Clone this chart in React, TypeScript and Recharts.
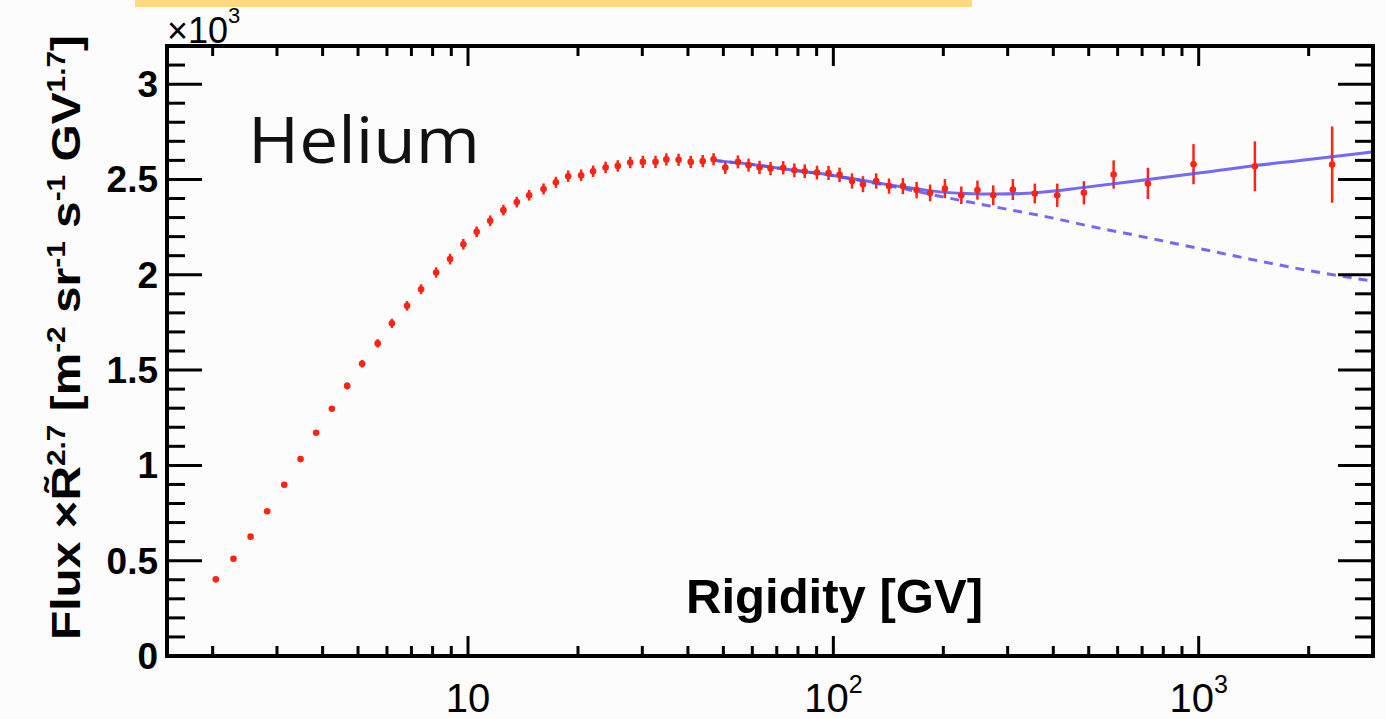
import { ComposedChart, Scatter, Line, XAxis, YAxis, ErrorBar } from "recharts";

// AMS helium flux x R^2.7, values in units of 10^3
const rigidity = [
    2.04, 2.28, 2.54, 2.82, 3.14, 3.48, 3.84, 4.24, 4.67, 5.13,
    5.66, 6.19, 6.81, 7.44, 8.18, 8.93, 9.71, 10.56, 11.5, 12.5,
    13.6, 14.7, 16.1, 17.4, 18.8, 20.4, 22.0, 23.8, 25.7, 27.8,
    30.1, 32.6, 34.9, 37.7, 40.7, 43.9, 47.0, 50.6, 54.8, 58.6,
    62.8, 67.3, 72.9, 78.2, 83.5, 90.2, 97.0, 104, 112.5, 120.5,
    131, 142, 155, 169, 184, 202, 224, 248, 274, 310,
    356, 410, 485, 585, 726, 968, 1425, 2319,
];
const flux = [
    0.402, 0.510, 0.626, 0.759, 0.898, 1.033, 1.171, 1.297, 1.417, 1.533,
    1.640, 1.745, 1.837, 1.924, 2.012, 2.082, 2.160, 2.225, 2.283, 2.339,
    2.381, 2.417, 2.450, 2.485, 2.517, 2.522, 2.543, 2.563, 2.571, 2.589,
    2.592, 2.592, 2.605, 2.603, 2.592, 2.596, 2.606, 2.563, 2.592, 2.575,
    2.563, 2.557, 2.561, 2.548, 2.543, 2.536, 2.534, 2.524, 2.492, 2.475,
    2.492, 2.465, 2.465, 2.444, 2.429, 2.452, 2.417, 2.444, 2.417, 2.447,
    2.426, 2.417, 2.430, 2.526, 2.479, 2.580, 2.569, 2.578,
];
const fluxErr = [
    0.008, 0.008, 0.008, 0.008, 0.008, 0.008, 0.01, 0.012, 0.018, 0.02,
    0.022, 0.024, 0.025, 0.026, 0.027, 0.028, 0.028, 0.028, 0.028, 0.028,
    0.028, 0.028, 0.029, 0.029, 0.03, 0.03, 0.03, 0.03, 0.03, 0.03,
    0.032, 0.032, 0.032, 0.032, 0.032, 0.032, 0.032, 0.034, 0.034, 0.034,
    0.035, 0.035, 0.035, 0.036, 0.036, 0.036, 0.037, 0.038, 0.04, 0.042,
    0.04, 0.04, 0.042, 0.043, 0.044, 0.05, 0.046, 0.05, 0.052, 0.055,
    0.052, 0.061, 0.061, 0.074, 0.082, 0.105, 0.131, 0.2,
];

// fit with spectral break (solid)
const fitR = [47, 60, 80, 100, 130, 150, 185, 230, 280, 370, 480, 700, 1000, 1400, 2000, 3000];
const fitBroken = [2.6, 2.578, 2.545, 2.521, 2.484, 2.465, 2.44, 2.426, 2.423, 2.433, 2.457, 2.496, 2.534, 2.571, 2.604, 2.645];

// single power law (dashed)
const singleR = [47, 60, 80, 100, 130, 160, 200, 250, 300, 400, 500, 700, 1000, 1500, 2000, 3000];
const fitSingle = [2.6, 2.578, 2.545, 2.519, 2.48, 2.447, 2.408, 2.372, 2.343, 2.297, 2.256, 2.2, 2.138, 2.068, 2.022, 1.966];

const xTicks = [2, 3, 4, 5, 6, 7, 8, 9, 10, 20, 30, 40, 50, 60, 70, 80, 90, 100, 200, 300, 400, 500, 600, 700, 800, 900, 1000, 2000];
const xMajor = [10, 100, 1000];
const xLabelBase = ["10", "10", "10"];
const xLabelExp = ["", "2", "3"];

const yTicks = [
    0, 0.1, 0.2, 0.3, 0.4, 0.5, 0.6, 0.7, 0.8, 0.9, 1, 1.1, 1.2, 1.3, 1.4, 1.5, 1.6,
    1.7, 1.8, 1.9, 2, 2.1, 2.2, 2.3, 2.4, 2.5, 2.6, 2.7, 2.8, 2.9, 3, 3.1,
];
const yMajor = [0, 0.5, 1, 1.5, 2, 2.5, 3];
const yLabels = ["0", "0.5", "1", "1.5", "2", "2.5", "3"];

const points = rigidity.map((r, i) => ({ r, f: flux[i], e: fluxErr[i] }));
const brokenLine = fitR.map((r, i) => ({ r, f: fitBroken[i] }));
const singleLine = singleR.map((r, i) => ({ r, f: fitSingle[i] }));

const FONT = "'Liberation Sans', Arial, Helvetica, sans-serif";
const RED = "#ff2314";
const BLUE = "#5d4ef5";
const frame = { stroke: "#000", strokeWidth: 4, strokeLinecap: "square" as const };

const BottomTick = (props: any) => {
    const { x, y, payload } = props;
    const i = xMajor.indexOf(payload.value);
    return (
        <g>
            <line x1={x} x2={x} y1={y} y2={y - (i >= 0 ? 20 : 10)} stroke="#000" strokeWidth={3} />
            {i >= 0 && (
                <text x={x} y={y + 56} textAnchor="middle" fontSize={40} fontFamily={FONT} fill="#000">
                    {xLabelBase[i]}
                    {xLabelExp[i] && <tspan dy={-19} fontSize={25}>{xLabelExp[i]}</tspan>}
                </text>
            )}
        </g>
    );
};

const TopTick = (props: any) => {
    const { x, y, payload } = props;
    const major = xMajor.includes(payload.value);
    return <line x1={x} x2={x} y1={y} y2={y + (major ? 20 : 10)} stroke="#000" strokeWidth={3} />;
};

const LeftTick = (props: any) => {
    const { x, y, payload } = props;
    const i = yMajor.indexOf(payload.value);
    return (
        <g>
            <line x1={x} x2={x + (i >= 0 ? 35 : 18)} y1={y} y2={y} stroke="#000" strokeWidth={3} />
            {i >= 0 && (
                <text x={x - 9} y={y + 13} textAnchor="end" fontSize={37} fontWeight="bold" fontFamily={FONT} fill="#000">
                    {yLabels[i]}
                </text>
            )}
        </g>
    );
};

const RightTick = (props: any) => {
    const { x, y, payload } = props;
    const major = yMajor.includes(payload.value);
    return <line x1={x} x2={x - (major ? 35 : 18)} y1={y} y2={y} stroke="#000" strokeWidth={3} />;
};

const Dot = (props: any) => <circle cx={props.cx} cy={props.cy} r={3.3} fill={RED} />;

export default function App() {
    return (
        <div style={{ position: "absolute", left: 0, top: 0, width: 1386, height: 719, background: "#fcfcfc" }}>
            <ComposedChart width={1386} height={719} margin={{ top: 0, right: 0, bottom: 0, left: 0 }}>
                <XAxis
                    xAxisId="bottom"
                    dataKey="r"
                    type="number"
                    scale="log"
                    domain={[1.5, 3000]}
                    allowDataOverflow
                    ticks={xTicks}
                    interval={0}
                    height={63}
                    tickSize={0}
                    tickMargin={0}
                    tickLine={false}
                    axisLine={frame}
                    tick={BottomTick}
                />
                <XAxis
                    xAxisId="top"
                    orientation="top"
                    dataKey="r"
                    type="number"
                    scale="log"
                    domain={[1.5, 3000]}
                    allowDataOverflow
                    ticks={xTicks}
                    interval={0}
                    height={46}
                    tickSize={0}
                    tickMargin={0}
                    tickLine={false}
                    axisLine={frame}
                    tick={TopTick}
                />
                <YAxis
                    yAxisId="left"
                    type="number"
                    domain={[0, 3.2]}
                    allowDataOverflow
                    ticks={yTicks}
                    interval={0}
                    width={167}
                    tickSize={0}
                    tickMargin={0}
                    tickLine={false}
                    axisLine={frame}
                    tick={LeftTick}
                />
                <YAxis
                    yAxisId="right"
                    orientation="right"
                    type="number"
                    domain={[0, 3.2]}
                    allowDataOverflow
                    ticks={yTicks}
                    interval={0}
                    width={13}
                    tickSize={0}
                    tickMargin={0}
                    tickLine={false}
                    axisLine={frame}
                    tick={RightTick}
                />
                <Scatter
                    xAxisId="bottom"
                    yAxisId="left"
                    data={points}
                    dataKey="f"
                    shape={Dot}
                    isAnimationActive={false}
                >
                    <ErrorBar dataKey="e" direction="y" width={0} stroke={RED} strokeWidth={2.5} />
                </Scatter>
                <Line
                    xAxisId="bottom"
                    yAxisId="left"
                    data={singleLine}
                    dataKey="f"
                    type="monotone"
                    stroke={BLUE}
                    strokeOpacity={0.85}
                    strokeWidth={3}
                    strokeDasharray="9 7"
                    dot={false}
                    activeDot={false}
                    isAnimationActive={false}
                />
                <Line
                    xAxisId="bottom"
                    yAxisId="left"
                    data={brokenLine}
                    dataKey="f"
                    type="monotone"
                    stroke={BLUE}
                    strokeOpacity={0.85}
                    strokeWidth={3}
                    dot={false}
                    activeDot={false}
                    isAnimationActive={false}
                />
            </ComposedChart>
            <svg width={1386} height={719} style={{ position: "absolute", left: 0, top: 0, pointerEvents: "none" }}>
                <rect x={135} y={0} width={837} height={7} fill="#ffd97a" />
                <text x={167} y={43} fontSize={36} fontFamily={FONT} fill="#000">
                    ×10<tspan dy={-20} fontSize={22}>3</tspan>
                </text>
                <text x={248} y={163} fontSize={64} fontFamily="'Open Sans', sans-serif" fill="#111" textLength={232} lengthAdjust="spacingAndGlyphs">
                    Helium
                </text>
                <text x={686} y={613} fontSize={48} fontWeight="bold" fontFamily={FONT} fill="#000" textLength={297} lengthAdjust="spacingAndGlyphs">
                    Rigidity [GV]
                </text>
                <text
                    transform="translate(80,640) rotate(-90)"
                    fontSize={40}
                    fontWeight="bold"
                    fontFamily={FONT}
                    fill="#000"
                    textLength={605}
                    lengthAdjust="spacingAndGlyphs"
                >
                    Flux  ×R̃<tspan dy={-15} fontSize={25}>2.7</tspan>
                    <tspan dy={15}> [m</tspan><tspan dy={-15} fontSize={25}>-2</tspan>
                    <tspan dy={15}> sr</tspan><tspan dy={-15} fontSize={25}>-1</tspan>
                    <tspan dy={15}> s</tspan><tspan dy={-15} fontSize={25}>-1</tspan>
                    <tspan dy={15}> GV</tspan><tspan dy={-15} fontSize={25}>1.7</tspan>
                    <tspan dy={15}>]</tspan>
                </text>
            </svg>
        </div>
    );
}
